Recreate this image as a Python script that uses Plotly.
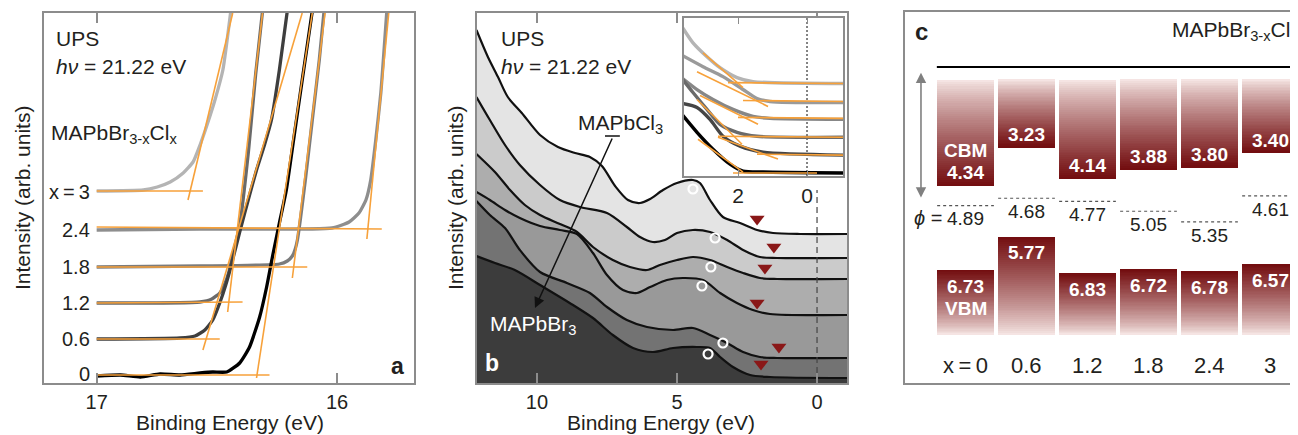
import numpy as np
import plotly.graph_objects as go

# The page body has an 8px default margin, so the figure is sized to fill the rest of the window.
OFF = 8
W, H = 1298 - OFF, 435 - OFF
FONT = "Liberation Sans, Arial, Helvetica, sans-serif"
TXT = "#231f20"
FRAME = "#8c8c8c"
ORANGE = "#f7a13a"

# ---------------- Panel a : secondary-electron cut-off (binding energy eV, arb. intensity) -------------
A_LABELS = ["x\u2009=\u20093", "2.4", "1.8", "1.2", "0.6", "0"]
A_COLORS = ["#b4b4b4", "#8e8e8e", "#7c7c7c", "#6a6a6a", "#3e3e3e", "#000000"]

A_E_X3 = [17.00, 16.806, 16.748, 16.694, 16.640, 16.599, 16.570, 16.541, 16.508, 16.475, 16.442]
A_I_X3 = [192, 193, 196, 201, 210, 221, 238, 258, 283, 313, 372]
A_E_X24 = [17.00, 16.570, 16.021, 15.950, 15.909, 15.880, 15.860, 15.839, 15.818, 15.793]
A_I_X24 = [153, 154, 155, 161, 170, 183, 203, 243, 290, 372]
A_E_X18 = [17.00, 16.570, 16.240, 16.207, 16.186, 16.174, 16.165, 16.153, 16.132, 16.103, 16.074, 16.054]
A_I_X18 = [116, 117, 119, 122, 127, 134, 143, 163, 203, 263, 323, 372]
A_E_X12 = [17.00, 16.570, 16.521, 16.488, 16.467, 16.450, 16.434, 16.405, 16.368, 16.339, 16.310]
A_I_X12 = [80, 81, 84, 90, 99, 111, 128, 158, 233, 308, 372]
A_E_X06 = [17.00, 16.653, 16.591, 16.550, 16.517, 16.488, 16.463, 16.442, 16.405, 16.364, 16.335,
           16.302, 16.273, 16.240, 16.207]
A_I_X06 = [44, 45, 47, 53, 63, 80, 98, 116, 151, 188, 213, 238, 263, 313, 372]
A_E_X0 = [17.00, 16.901, 16.818, 16.736, 16.653, 16.570, 16.517, 16.459, 16.405, 16.364, 16.322,
          16.293, 16.269, 16.240, 16.211, 16.178, 16.145, 16.103]
A_I_X0 = [7, 8, 6, 9, 8, 10, 11, 11, 20, 36, 66, 96, 126, 160, 193, 248, 303, 372]

# tangent lines (baseline and leading edge) per composition, x = 3 ... 0
A_BASE_E = [[17.0, 16.558], [17.0, 15.814], [17.0, 16.124], [17.0, 16.393], [17.0, 16.488], [17.0, 16.281]]
A_BASE_I = [[192, 192], [156, 154], [116, 116], [80, 81], [44, 44], [8, 8]]
A_EDGE_E = [[16.620, 16.434], [15.876, 15.785], [16.186, 16.050], [16.455, 16.310], [16.558, 16.145], [16.335, 16.103]]
A_EDGE_I = [[183, 370], [144, 370], [105, 370], [71, 370], [33, 370], [5, 370]]

# ---------------- Panel b : valence band spectra -------------
B_FILLS = ["#e4e4e4", "#cbcbcb", "#adadad", "#999999", "#737373", "#3c3c3c"]

B_E_X3 = [12.16, 11.75, 11.39, 11.04, 10.54, 9.89, 9.25, 8.64, 8.11, 7.68, 7.21, 6.75, 6.32, 5.96, 5.50,
          5.00, 4.43, 4.18, 3.82, 3.36, 2.75, 2.14, 1.57, 0.61, -1.10]
B_I_X3 = [353, 326, 306, 286, 270, 248, 236, 230, 226, 217, 197, 183, 180, 184, 193,
          200, 203, 200, 183, 166, 160, 153, 150, 149, 149]
B_E_X24 = [12.16, 11.68, 11.14, 10.61, 9.89, 9.18, 8.46, 7.50, 6.79, 6.32, 5.86, 5.43, 5.00, 4.43, 3.82,
           3.21, 2.64, 2.04, 1.43, -1.10]
B_I_X24 = [286, 263, 238, 218, 198, 183, 176, 170, 156, 146, 141, 143, 150, 153, 151,
           143, 133, 126, 125, 125]
B_E_X18 = [12.16, 11.50, 10.96, 10.43, 9.89, 9.18, 8.57, 8.00, 7.29, 6.68, 6.07, 5.61, 5.00, 4.43, 3.82,
           3.21, 2.64, 2.04, 1.43, -1.10]
B_I_X18 = [229, 211, 193, 178, 168, 159, 151, 136, 123, 116, 113, 118, 123, 126, 123,
           116, 110, 105, 104, 104]
B_E_X12 = [12.16, 11.68, 11.14, 10.61, 9.89, 9.18, 8.57, 8.00, 7.50, 6.93, 6.43, 5.96, 5.36, 4.79, 4.07,
           3.46, 2.86, 2.29, 1.68, -1.10]
B_I_X12 = [191, 183, 173, 165, 157, 153, 149, 130, 108, 93, 90, 96, 103, 105, 103,
           90, 80, 73, 69, 68]
B_E_X06 = [12.16, 11.68, 11.14, 10.61, 9.89, 8.93, 8.11, 7.50, 6.79, 6.07, 5.14, 4.43, 3.82, 3.21, 2.64,
           2.04, 1.43, -1.10]
B_I_X06 = [182, 168, 155, 133, 111, 100, 90, 76, 63, 56, 53, 55, 48, 40, 31,
           26, 25, 25]
B_E_X0 = [12.16, 11.50, 10.79, 9.89, 8.71, 8.00, 7.29, 6.57, 5.86, 5.14, 4.29, 3.82, 3.46, 3.00, 2.39,
          1.68, -1.10]
B_I_X0 = [127, 120, 113, 98, 78, 65, 48, 35, 31, 35, 36, 35, 26, 16, 8,
          6, 5]

B_CIRC_E = [4.43, 3.64, 3.79, 4.11, 3.36, 3.89]
B_CIRC_I = [194, 145, 116, 97, 40, 29]
B_TRI_E = [2.14, 1.54, 1.86, 2.14, 1.36, 2.00]
B_TRI_I = [164, 136, 115, 80, 36, 19]

# inset: valence band onset
INS_COLORS = ["#b4b4b4", "#9a9a9a", "#878787", "#6a6a6a", "#454545", "#000000"]
INS_E1 = [3.60, 3.304, 2.899, 2.522, 2.029, 1.565, -1.10]
INS_I1 = [149, 134, 120, 109, 99, 95, 93]
INS_E2 = [3.60, 3.014, 2.435, 1.855, 1.449, 1.072, -1.10]
INS_I2 = [121, 110, 100, 87, 78, 75, 74]
INS_E3 = [3.60, 3.188, 2.725, 2.145, 1.565, 1.072, -1.10]
INS_I3 = [98, 87, 77, 67, 60, 58, 57]
INS_E4 = [3.60, 3.304, 2.899, 2.522, 2.029, 1.449, -1.10]
INS_I4 = [97, 84, 67, 52, 44, 40, 39]
INS_E5 = [3.60, 3.188, 2.812, 2.435, 1.942, 1.275, -1.10]
INS_I5 = [73, 69, 57, 40, 30, 24, 21]
INS_E6 = [3.60, 3.188, 2.725, 2.232, 1.855, 1.275, -1.10]
INS_I6 = [61, 44, 27, 12, 5, 4, 3]
INS_BASE_E = [[2.290, -1.10], [1.855, -1.10], [2.0, -1.10], [2.580, -1.10], [1.449, -1.10], [2.145, -0.29]]
INS_BASE_I = [[94, 93], [76, 75], [59, 58], [40, 39], [22, 21], [3, 3]]
INS_SLOPE_E = [[3.014, 1.855], [3.188, 1.130], [3.101, 1.420], [3.188, 1.884], [2.580, 0.841], [3.159, 1.855]]
INS_SLOPE_I = [[124, 89], [105, 70], [81, 52], [77, 32], [39, 17], [37, 4]]

# ---------------- Panel c : energy levels (eV below vacuum) -------------
C_X_LABELS = ["x\u2009=\u20090", "0.6", "1.2", "1.8", "2.4", "3"]
CBM = [4.34, 3.23, 4.14, 3.88, 3.80, 3.40]
VBM = [6.73, 5.77, 6.83, 6.72, 6.78, 6.57]
PHI = [4.89, 4.68, 4.77, 5.05, 5.35, 4.61]
CB_TOP = 1.31      # schematic upper end of the CB blocks
VB_BOTTOM = 8.58   # schematic lower end of the VB blocks
VAC_LEVEL = 0.94   # schematic vacuum-level line


def xp(v):
    """window pixel -> paper fraction"""
    return (v - OFF) / W


def yp(v):
    return 1 - (v - OFF) / H


fig = go.Figure()

# ---- panel a traces
a_curves = [(A_E_X3, A_I_X3), (A_E_X24, A_I_X24), (A_E_X18, A_I_X18),
            (A_E_X12, A_I_X12), (A_E_X06, A_I_X06), (A_E_X0, A_I_X0)]
for (e, i), col in zip(a_curves, A_COLORS):
    fig.add_trace(go.Scatter(x=e, y=i, mode="lines", line=dict(color=col, width=3.3, shape="spline", smoothing=0.5),
                             xaxis="x", yaxis="y", hoverinfo="skip"))
for k in range(6):
    fig.add_trace(go.Scatter(x=A_BASE_E[k], y=A_BASE_I[k], mode="lines", line=dict(color=ORANGE, width=1.6),
                             xaxis="x", yaxis="y", hoverinfo="skip"))
    fig.add_trace(go.Scatter(x=A_EDGE_E[k], y=A_EDGE_I[k], mode="lines", line=dict(color=ORANGE, width=1.6),
                             xaxis="x", yaxis="y", hoverinfo="skip"))

# ---- panel b traces
b_curves = [(B_E_X3, B_I_X3), (B_E_X24, B_I_X24), (B_E_X18, B_I_X18),
            (B_E_X12, B_I_X12), (B_E_X06, B_I_X06), (B_E_X0, B_I_X0)]
for (e, i), col in zip(b_curves, B_FILLS):
    fig.add_trace(go.Scatter(x=e, y=i, mode="lines", fill="tozeroy", fillcolor=col,
                             line=dict(color=col, width=0, shape="spline", smoothing=0.8),
                             xaxis="x2", yaxis="y2", hoverinfo="skip"))
for (e, i) in b_curves:
    fig.add_trace(go.Scatter(x=e, y=i, mode="lines", line=dict(color="#111111", width=2.2, shape="spline", smoothing=0.8),
                             xaxis="x2", yaxis="y2", hoverinfo="skip"))
fig.add_trace(go.Scatter(x=[0, 0], y=[0, 193], mode="lines", line=dict(color="#444444", width=1.2, dash="6px,4px"),
                         xaxis="x2", yaxis="y2", hoverinfo="skip"))
fig.add_trace(go.Scatter(x=B_CIRC_E, y=B_CIRC_I, mode="markers",
                         marker=dict(symbol="circle-open", size=9, color="white", line=dict(width=2.2, color="white")),
                         xaxis="x2", yaxis="y2", hoverinfo="skip"))
fig.add_trace(go.Scatter(x=B_TRI_E, y=B_TRI_I, mode="markers",
                         marker=dict(symbol="triangle-down", size=13, color="#8a1818"),
                         xaxis="x2", yaxis="y2", hoverinfo="skip"))

# ---- inset traces
ins_curves = [(INS_E1, INS_I1), (INS_E2, INS_I2), (INS_E3, INS_I3),
              (INS_E4, INS_I4), (INS_E5, INS_I5), (INS_E6, INS_I6)]
fig.add_trace(go.Scatter(x=[0, 0], y=[0, 159], mode="lines", line=dict(color="#333333", width=1.2, dash="2px,2px"),
                         xaxis="x3", yaxis="y3", hoverinfo="skip"))
for (e, i), col in zip(ins_curves, INS_COLORS):
    fig.add_trace(go.Scatter(x=e, y=i, mode="lines", line=dict(color=col, width=3.4, shape="spline", smoothing=0.7),
                             xaxis="x3", yaxis="y3", hoverinfo="skip"))
for k in range(6):
    fig.add_trace(go.Scatter(x=INS_BASE_E[k], y=INS_BASE_I[k], mode="lines", line=dict(color=ORANGE, width=1.6),
                             xaxis="x3", yaxis="y3", hoverinfo="skip"))
    fig.add_trace(go.Scatter(x=INS_SLOPE_E[k], y=INS_SLOPE_I[k], mode="lines", line=dict(color=ORANGE, width=1.6),
                             xaxis="x3", yaxis="y3", hoverinfo="skip"))

# ---- panel c : gradient blocks
LIGHT = np.array([248, 234, 232])
DARK = np.array([114, 12, 14])


def shade(t):
    c = LIGHT + (DARK - LIGHT) * t
    return "rgb(%d,%d,%d)" % tuple(int(round(v)) for v in c)


NSEG = 50
bx, bbase, bh, bcol = [], [], [], []
for idx, (cb, vb) in enumerate(zip(CBM, VBM)):
    edges = np.linspace(CB_TOP, cb, NSEG + 1)
    for k in range(NSEG):
        t = (k + 0.5) / NSEG
        bx.append(idx); bbase.append(edges[k]); bh.append(edges[k + 1] - edges[k] + 0.004)
        bcol.append(shade(t ** 0.8))
    edges = np.linspace(vb, VB_BOTTOM, NSEG + 1)
    for k in range(NSEG):
        t = 1 - (k + 0.5) / NSEG
        bx.append(idx); bbase.append(edges[k]); bh.append(edges[k + 1] - edges[k] + 0.004)
        bcol.append(shade(t ** 0.8))
fig.add_trace(go.Bar(x=bx, y=bh, base=bbase, width=0.93, marker=dict(color=bcol, line=dict(width=0)),
                     xaxis="x4", yaxis="y4", hoverinfo="skip"))

# ---- shapes
shapes = []
shapes.append(dict(type="line", xref="x2", yref="y2", x0=7.57, x1=7.04, y0=247, y1=247,
                   line=dict(color="#111111", width=1.5)))
shapes.append(dict(type="line", xref="x4", yref="y4", x0=-0.47, x1=6.0, y0=VAC_LEVEL, y1=VAC_LEVEL,
                   line=dict(color="#000000", width=2.2)))
for idx, ph in enumerate(PHI):
    shapes.append(dict(type="line", xref="x4", yref="y4", x0=idx - 0.465, x1=idx + 0.465, y0=ph, y1=ph,
                       line=dict(color="#555555", width=1.2, dash="3px,3px")))

# ---- annotations
ann = []


def txt(text, x, y, size=21, xanchor="left", yanchor="middle", color=TXT, bold=False, textangle=0,
        xref="paper", yref="paper"):
    if bold:
        text = "<b>" + text + "</b>"
    ann.append(dict(text=text, x=x, y=y, xref=xref, yref=yref, xanchor=xanchor, yanchor=yanchor,
                    showarrow=False, textangle=textangle,
                    font=dict(family=FONT, size=size, color=color)))


# panel a texts
txt("UPS", xp(54), yp(39))
txt("<i>hν</i> = 21.22 eV", xp(54), yp(66))
txt("MAPbBr<sub>3-x</sub>Cl<sub>x</sub>", xp(49), yp(134))
for lab, yy in zip(A_LABELS, [192, 230, 267, 303, 339, 374]):
    txt(lab, xp(92), yp(yy), size=20, xanchor="right")
txt("a", xp(397), yp(366), size=23, xanchor="center", bold=True)
txt("Binding Energy (eV)", xp(230), yp(422), size=21, xanchor="center")
txt("Intensity (arb. units)", xp(22), yp(198), size=21, xanchor="center", textangle=-90)

# panel b texts
txt("UPS", xp(499), yp(39))
txt("<i>hν</i> = 21.22 eV", xp(499), yp(66))
txt("MAPbCl<sub>3</sub>", xp(576), yp(124))
txt("MAPbBr<sub>3</sub>", xp(488), yp(325), color="white")
txt("b", xp(492), yp(363), size=23, xanchor="center", color="white", bold=True)
txt("Binding Energy (eV)", xp(661), yp(422), size=21, xanchor="center")
txt("Intensity (arb. units)", xp(455), yp(198), size=21, xanchor="center", textangle=-90)
ann.append(dict(x=10.07, y=75, ax=7.29, ay=246, xref="x2", yref="y2", axref="x2", ayref="y2",
                text="", showarrow=True, arrowhead=2, arrowsize=1.4, arrowwidth=1.5, arrowcolor="#111111"))

# panel c texts
txt("c", xp(922), yp(32), size=24, xanchor="center", bold=True)
txt("MAPbBr<sub>3-x</sub>Cl<sub>x</sub>", xp(1170), yp(31))
for idx, lab in enumerate(C_X_LABELS):
    txt(lab, idx, yp(365), size=22, xanchor="center", xref="x4")
for idx, (cb, vb, ph) in enumerate(zip(CBM, VBM, PHI)):
    if idx == 0:
        txt("CBM", idx, cb - 1.02, size=19, xanchor="center", color="white", bold=True, xref="x4", yref="y4")
        txt("%.2f" % cb, idx, cb - 0.40, size=19, xanchor="center", color="white", bold=True, xref="x4", yref="y4")
        txt("%.2f" % vb, idx, vb + 0.47, size=19, xanchor="center", color="white", bold=True, xref="x4", yref="y4")
        txt("VBM", idx, vb + 1.08, size=19, xanchor="center", color="white", bold=True, xref="x4", yref="y4")
    else:
        txt("%.2f" % cb, idx, cb - 0.38, size=19, xanchor="center", color="white", bold=True, xref="x4", yref="y4")
        txt("%.2f" % vb, idx, vb + 0.45, size=19, xanchor="center", color="white", bold=True, xref="x4", yref="y4")
    txt("%.2f" % ph, idx, ph + 0.38, size=19, xanchor="center", xref="x4", yref="y4")
txt("<i>ϕ</i> =", -0.36, PHI[0] + 0.36, size=20, xanchor="right", xref="x4", yref="y4")
ann.append(dict(x=-0.73, y=4.66, ax=-0.73, ay=1.06, xref="x4", yref="y4", axref="x4", ayref="y4",
                text="", showarrow=True, arrowhead=2, arrowside="end+start", arrowsize=1.3,
                arrowwidth=1.6, arrowcolor="#808080"))

# ---- axes
frame = dict(showline=True, linecolor=FRAME, linewidth=1.6, showgrid=False, zeroline=False)
tickfont = dict(family=FONT, size=20, color=TXT)
layout = dict(
    width=W, height=H, margin=dict(l=0, r=0, t=0, b=0),
    paper_bgcolor="white", plot_bgcolor="white", showlegend=False, template="none",
    barmode="overlay", bargap=0,
    xaxis=dict(domain=[xp(44), xp(414)], range=[17.219, 15.68], tickvals=[17, 16], ticktext=["17", "16"],
               ticks="inside", ticklen=10, tickwidth=1.5, tickcolor=FRAME, mirror="ticks",
               tickfont=tickfont, anchor="y", **frame),
    yaxis=dict(domain=[yp(383), yp(13)], range=[0, 370], showticklabels=False, ticks="",
               mirror=True, anchor="x", **frame),
    xaxis2=dict(domain=[xp(477), xp(847)], range=[12.14, -1.07], tickvals=[10, 5, 0],
                ticks="inside", ticklen=10, tickwidth=1.5, tickcolor=FRAME, mirror="ticks",
                tickfont=tickfont, anchor="y2", **frame),
    yaxis2=dict(domain=[yp(383), yp(13)], range=[0, 370], showticklabels=False, ticks="",
                mirror=True, anchor="x2", **frame),
    xaxis3=dict(domain=[xp(684), xp(843)], range=[3.565, -1.043], tickvals=[2, 0],
                ticks="inside", ticklen=6, tickwidth=1.2, tickcolor=FRAME, mirror="ticks",
                tickfont=dict(family=FONT, size=21, color=TXT), anchor="y3", **frame),
    yaxis3=dict(domain=[yp(176), yp(18)], range=[0, 159], showticklabels=False, ticks="",
                mirror=True, anchor="x3", **frame),
    xaxis4=dict(domain=[xp(905), 1.0], range=[-0.992, 5.451], showticklabels=False, ticks="",
                mirror=True, anchor="y4", **frame),
    yaxis4=dict(domain=[yp(383), yp(12)], range=[9.943, -0.627], showticklabels=False, ticks="",
                mirror=False, anchor="x4", **frame),
    shapes=shapes, annotations=ann,
    font=dict(family=FONT, color=TXT),
)
fig.update_layout(**layout)
fig.write_html("out.html")
